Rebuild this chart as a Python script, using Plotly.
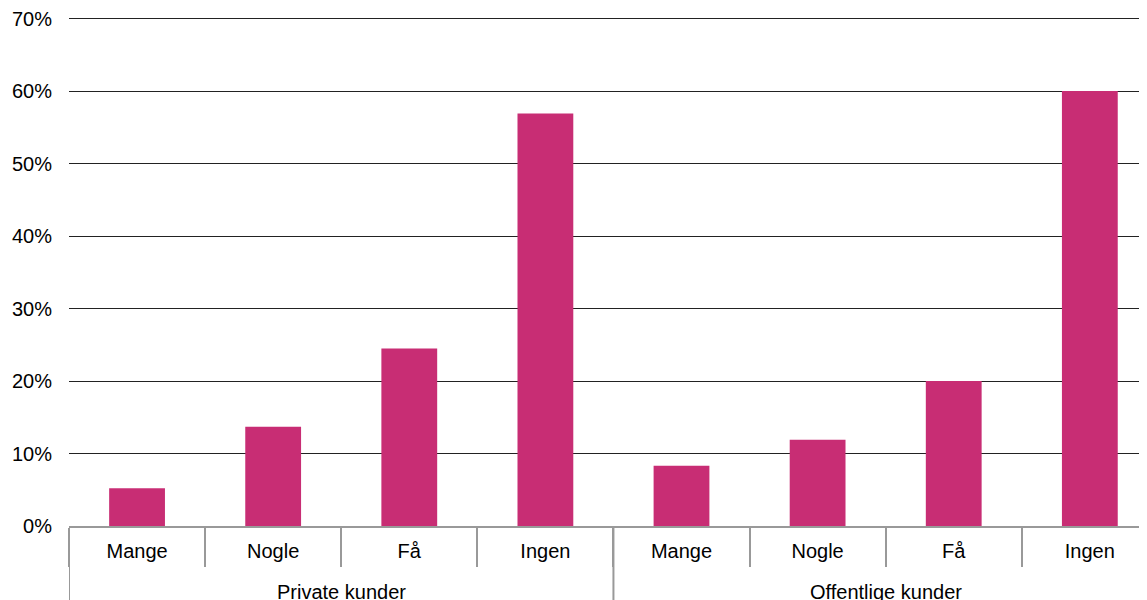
import plotly.graph_objects as go

# Categories (outer group, inner level)
group_names = ["Private kunder", "Offentlige kunder"]
groups = [" "] * 4 + ["  "] * 4   # blank keys, names drawn as annotations
levels = ["Mange", "Nogle", "Få", "Ingen"] * 2

# Shares
shares = [0.052, 0.137, 0.245, 0.569, 0.083, 0.119, 0.200, 0.600]

y_ticks = [0, 0.1, 0.2, 0.3, 0.4, 0.5, 0.6, 0.7]

fig = go.Figure(
    go.Bar(
        x=[groups, levels],
        y=shares,
        marker=dict(color="#C82D74", line=dict(width=0)),
        width=0.41,
    )
)

# page body has an 8px margin, so size the figure to end at the window edge
fig.update_layout(
    width=1139,
    height=592,
    margin=dict(l=61, r=0, t=7, b=74),
    paper_bgcolor="white",
    plot_bgcolor="white",
    showlegend=False,
    font=dict(family="Liberation Sans, Arial, sans-serif", size=20, color="#000000"),
)

# group names under the inner labels, centred on each group of four,
# plus full-height separators between the groups
for i, name in enumerate(group_names):
    fig.add_annotation(
        x=i * 4 + 1.5, xref="x",
        y=0, yref="paper",
        yshift=-66, yanchor="middle",
        text=name, showarrow=False,
        font=dict(size=20, color="#000000"),
    )
    fig.add_shape(
        type="line",
        xref="x", x0=i * 4 - 0.5, x1=i * 4 - 0.5,
        yref="paper", ysizemode="pixel", yanchor=0, y0=0, y1=-90,
        line=dict(color="#999999", width=2),
    )

fig.update_xaxes(
    type="multicategory",
    range=[-0.5, 7.42],
    automargin=False,
    showline=True,
    linecolor="#999999",
    linewidth=2,
    ticks="outside",
    ticklen=39,
    tickcolor="#999999",
    tickwidth=2,
    ticklabelstandoff=6,
    showdividers=False,
    showgrid=False,
)

fig.update_yaxes(
    range=[0, 0.705],
    automargin=False,
    tickvals=y_ticks,
    tickformat=".0%",
    ticklabeloverflow="allow",
    showgrid=True,
    gridcolor="#222222",
    gridwidth=1,
    zeroline=False,
    ticks="",
    ticklabelstandoff=16,
)

fig.write_html("out.html")
